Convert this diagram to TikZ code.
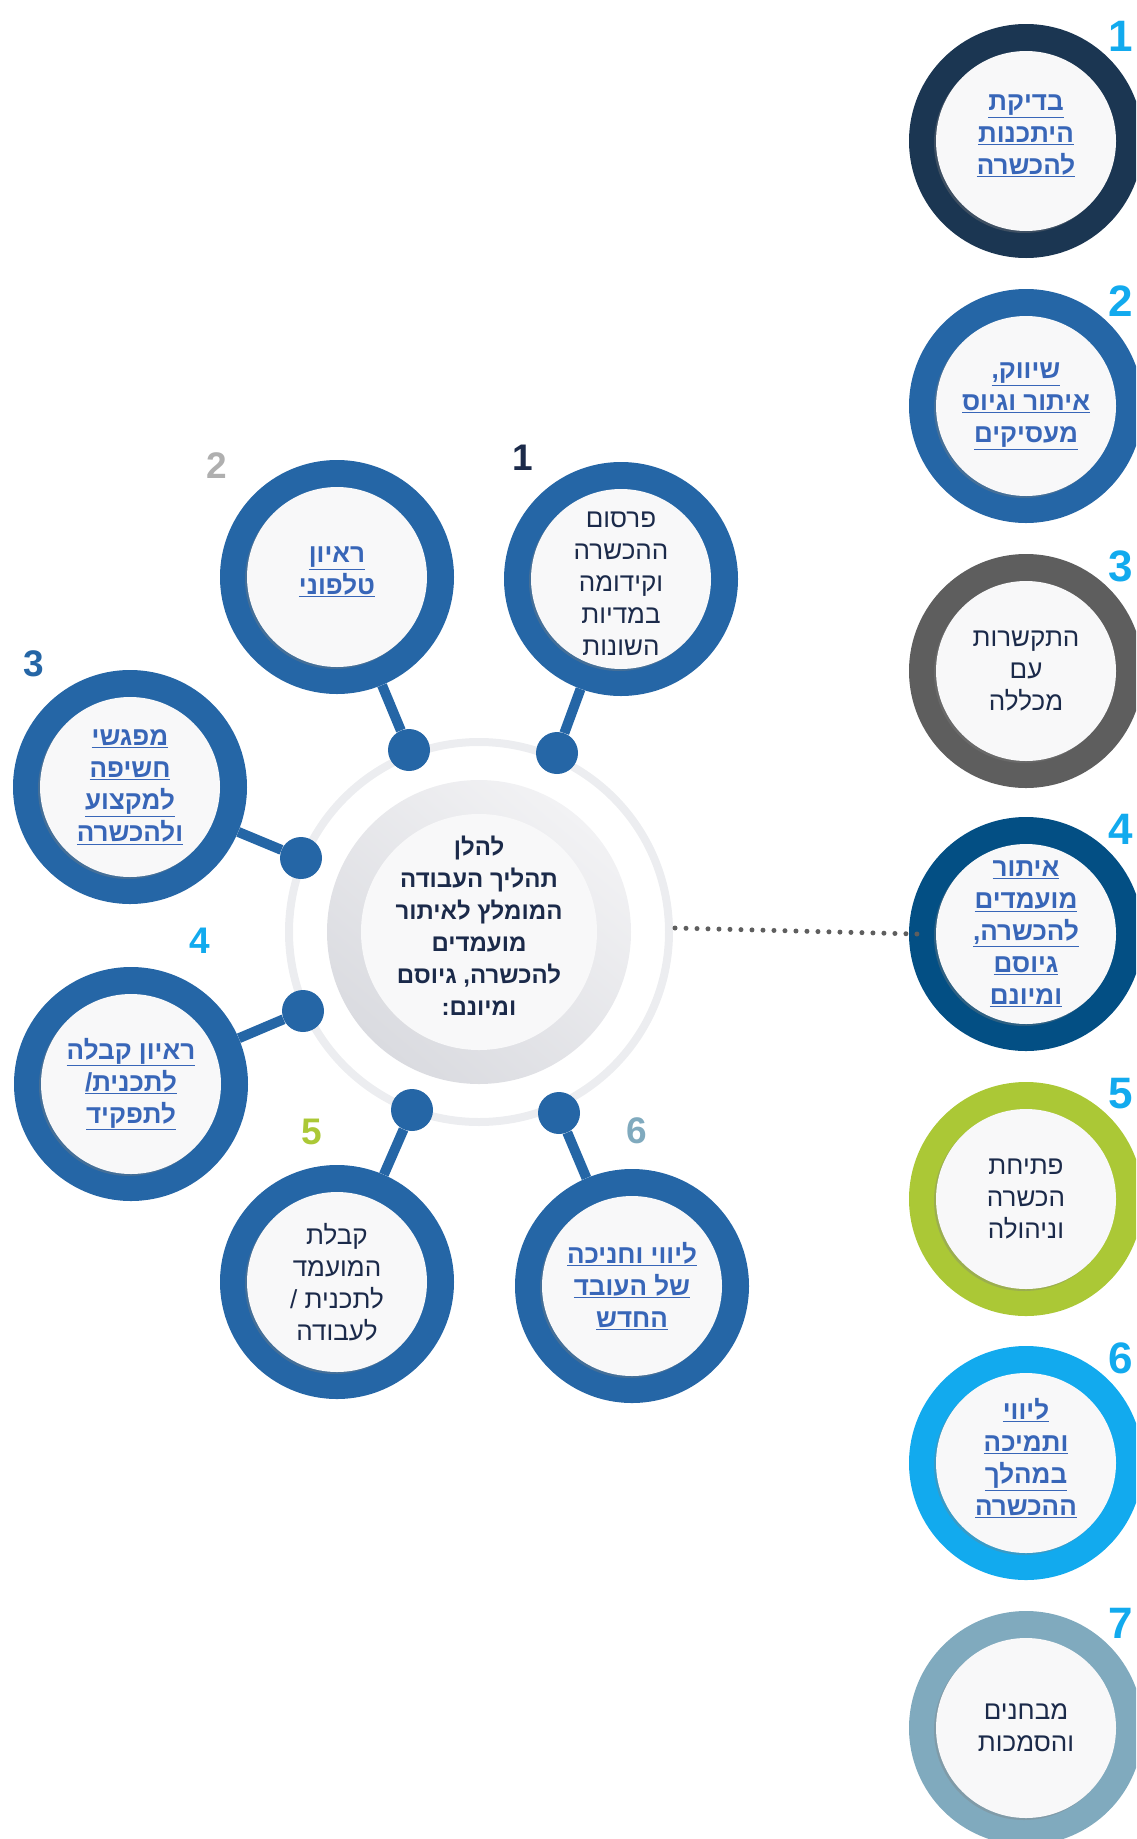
\documentclass[tikz,border=0pt]{standalone}
\usepackage{fontspec}
\usepackage{tikz}
\usetikzlibrary{shadows}
\TeXXeTstate=1
\newfontfamily\hebfont[Script=Hebrew]{Liberation Sans}
\newfontfamily\numfont{Liberation Sans}

\definecolor{satblue}{HTML}{2566A6}
\definecolor{rone}{HTML}{1B3652}
\definecolor{rthree}{HTML}{5E5E5E}
\definecolor{rfour}{HTML}{034F84}
\definecolor{rfive}{HTML}{ABC836}
\definecolor{rsix}{HTML}{12AAEE}
\definecolor{rseven}{HTML}{80AABE}
\definecolor{darktext}{HTML}{1B2A4A}
\definecolor{linkblue}{HTML}{3866B8}
\definecolor{halogray}{HTML}{ECEDF0}
\definecolor{hubhi}{HTML}{F2F2F4}
\definecolor{hublo}{HTML}{DADBE0}
\definecolor{facewhite}{HTML}{F8F8F9}
\definecolor{dotgray}{HTML}{5E5E5E}
\definecolor{numgray}{HTML}{AFAFAF}

\newcommand\rtl[1]{\beginR#1\endR}
\newcommand\linkline[1]{\underline{\beginR#1\endR}}

\tikzset{
  ringdisc/.style={circle, fill=#1, minimum size=234pt, inner sep=0pt},
  whiteface/.style={circle, fill=facewhite, minimum size=180pt, inner sep=0pt,
    drop shadow={shadow xshift=-2pt, shadow yshift=-2pt, opacity=.35, fill=gray}},
  plaintext/.style={font=\hebfont\fontsize{26}{32}\selectfont, text=darktext, align=center},
  linktext/.style={font=\hebfont\bfseries\fontsize{26}{32}\selectfont, text=linkblue, align=center},
  leadtext/.style={font=\hebfont\bfseries\fontsize{24}{32}\selectfont, text=darktext, align=center},
  knob/.style={circle, fill=satblue, minimum size=42pt, inner sep=0pt},
  stem/.style={draw=satblue, line width=10pt},
  bignum/.style={font=\numfont\bfseries\fontsize{44}{44}\selectfont, text=rsix},
  smallnum/.style={font=\numfont\bfseries\fontsize{37}{37}\selectfont},
  dotline/.style={draw=dotgray, line width=5pt, line cap=round, dash pattern=on 0pt off 11pt},
}

\begin{document}
\begin{tikzpicture}[x=1pt,y=-1pt]
  \useasboundingbox (0,0) rectangle (1136,1839);
  \clip (0,0) rectangle (1136,1839);

  % hub in the middle
  \node[circle, draw=halogray, line width=8pt, minimum size=380pt, inner sep=0pt] (halo) at (479,932) {};
  \node[circle, minimum size=304pt, inner sep=0pt, top color=hubhi, bottom color=hublo, shading angle=-40] (hub) at (479,932) {};
  \node[circle, fill=facewhite, minimum size=236pt, inner sep=0pt] (core) at (hub) {};
  \node[leadtext] (lead) at ([yshift=6pt]core.center) {\rtl{להלן}\\ \rtl{תהליך העבודה}\\ \rtl{המומלץ לאיתור}\\ \rtl{מועמדים}\\ \rtl{להכשרה, גיוסם}\\ \rtl{ומיונם:}};

  % satellites with knobs
  \foreach \i/\kx/\ky/\sx/\sy in {1/557/753/621/579, 2/409/750/337/577, 3/301/858/130/787,
                                  4/303/1011/131/1084, 5/412/1110/337/1282, 6/559/1113/632/1286}{
    \node[knob] (k\i) at (\kx,\ky) {};
    \node[ringdisc=satblue] (s\i) at (\sx,\sy) {};
    \node[whiteface] at (s\i) {};
    \draw[stem] (k\i) -- (s\i);
  }

  \node[plaintext] at ([yshift=-5pt]s1.center) {\rtl{פרסום}\\ \rtl{ההכשרה}\\ \rtl{וקידומה}\\ \rtl{במדיות}\\ \rtl{השונות}};
  \node[linktext] at ([yshift=5pt]s2.center) {\linkline{ראיון}\\ \linkline{טלפוני}};
  \node[linktext] at (s3) {\linkline{מפגשי}\\ \linkline{חשיפה}\\ \linkline{למקצוע}\\ \linkline{ולהכשרה}};
  \node[linktext] at (s4) {\linkline{ראיון קבלה}\\ \linkline{לתכנית/}\\ \linkline{לתפקיד}};
  \node[plaintext] at (s5) {\rtl{קבלת}\\ \rtl{המועמד}\\ \rtl{לתכנית /}\\ \rtl{לעבודה}};
  \node[linktext] at (s6) {\linkline{ליווי וחניכה}\\ \linkline{של העובד}\\ \linkline{החדש}};

  \node[smallnum, text=darktext] (n1) at (523,458) {1};
  \node[smallnum, text=numgray] (n2) at (217,466) {2};
  \node[smallnum, text=satblue] (n3) at (34,664) {3};
  \node[smallnum, text=rsix] (n4) at (200,941) {4};
  \node[smallnum, text=rfive] (n5) at (312,1132) {5};
  \node[smallnum, text=rseven] (n6) at (637,1131) {6};

  % right column
  \foreach \i/\col/\y in {1/rone/141, 2/satblue/406, 3/rthree/671, 4/rfour/934,
                          5/rfive/1199, 6/rsix/1463, 7/rseven/1728}{
    \node[ringdisc=\col] (r\i) at (1026,\y) {};
    \node[whiteface] at (r\i) {};
    \node[bignum] at ([shift={(95,-105)}]r\i.center) {\i};
  }

  \node[linktext] at ([yshift=5pt]r1.center) {\linkline{בדיקת}\\ \linkline{היתכנות}\\ \linkline{להכשרה}};
  \node[linktext] at (r2) {\linkline{שיווק,}\\ \linkline{איתור וגיוס}\\ \linkline{מעסיקים}};
  \node[plaintext] at (r3) {\rtl{התקשרות}\\ \rtl{עם}\\ \rtl{מכללה}};
  \node[linktext] at (r4) {\linkline{איתור}\\ \linkline{מועמדים}\\ \linkline{להכשרה,}\\ \linkline{גיוסם}\\ \linkline{ומיונם}};
  \node[plaintext] at (r5) {\rtl{פתיחת}\\ \rtl{הכשרה}\\ \rtl{וניהולה}};
  \node[linktext] at ([yshift=5pt]r6.center) {\linkline{ליווי}\\ \linkline{ותמיכה}\\ \linkline{במהלך}\\ \linkline{ההכשרה}};
  \node[plaintext] at (r7) {\rtl{מבחנים}\\ \rtl{והסמכות}};

  % dotted link from hub to step 4
  \coordinate (dotstart) at (675,928);
  \coordinate (dotend) at (917,934);
  \draw[dotline] (dotstart) -- (dotend);
\end{tikzpicture}
\end{document}
